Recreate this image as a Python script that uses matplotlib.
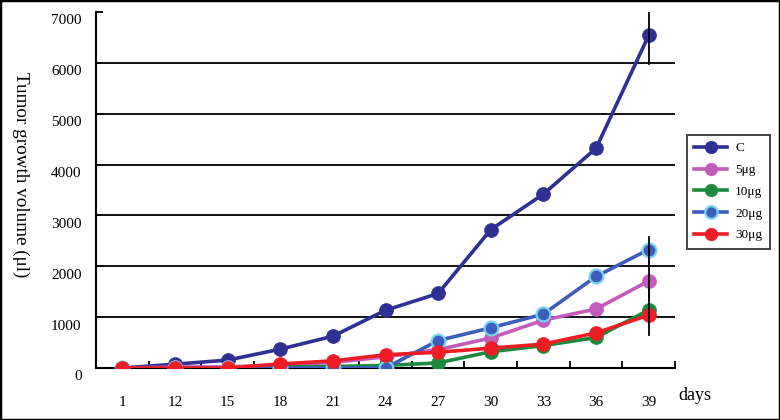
import numpy as np
import matplotlib
matplotlib.use('Agg')
import matplotlib.pyplot as plt
from matplotlib.transforms import ScaledTranslation
from matplotlib.patches import Rectangle

plt.rcParams['font.family'] = ['Liberation Serif', 'DejaVu Serif']

# Данные
days = ['1', '12', '15', '18', '21', '24', '27', '30', '33', '36', '39']
vol_c = [0, 75, 155, 370, 625, 1135, 1465, 2720, 3420, 4320, 6540]
vol_5 = [0, 20, 20, 60, 110, 220, 360, 590, 940, 1160, 1710]
vol_10 = [0, 0, 0, 20, 30, 50, 100, 320, 440, 600, 1140]
vol_20 = [0, 0, 0, 0, 0, 0, 540, 790, 1060, 1800, 2330]
vol_30 = [0, 0, 0, 80, 140, 260, 310, 390, 470, 690, 1040]
err_39 = {'C': 560, '5μg': 380, '10μg': 490, '20μg': 250, '30μg': 0}
yticks = [0, 1000, 2000, 3000, 4000, 5000, 6000, 7000]

series = [
    ('C', vol_c, '#2E3092', '#2E3092'),
    ('5μg', vol_5, '#C25BBA', '#C25BBA'),
    ('10μg', vol_10, '#1C8A3C', '#1C8A3C'),
    ('20μg', vol_20, '#3D5DBB', '#79D2F2'),
    ('30μg', vol_30, '#EE1D25', '#EE1D25'),
]

fig = plt.figure(figsize=(7.8, 4.2), dpi=100)
ax = fig.add_axes([96 / 780, 1 - 368 / 420, (675 - 96) / 780, (368 - 12) / 420])

x = np.arange(len(days))

# линии сетки
for yv in yticks[1:-1]:
    ax.axhline(yv, color='black', lw=1.3, zorder=1)

for name, vals, col, edge in series:
    ax.plot(x, vals, color=col, lw=2.6, marker='o', ms=10,
            mfc=col, mec=edge, mew=1.6 if edge != col else 0.5,
            label=name, zorder=3)

# планки погрешностей для последнего дня
for name, vals, col, edge in series:
    e = err_39[name]
    if e:
        ax.plot([x[-1], x[-1]], [vals[-1] - e, vals[-1] + e],
                color='black', lw=1.3, zorder=4)

ax.set_xlim(-0.5, len(days) - 0.5)
ax.set_ylim(0, 7000)
ax.spines['top'].set_visible(False)
ax.spines['right'].set_visible(False)
ax.spines['left'].set_linewidth(1.5)
ax.spines['bottom'].set_linewidth(1.5)

ax.set_xticks(x)
ax.set_xticklabels(days, fontsize=11)
ax.set_xticks(np.arange(len(days)) + 0.5, minor=True)
ax.tick_params(axis='x', which='major', length=0, pad=20)
ax.tick_params(axis='x', which='minor', direction='in', length=5, width=1.3)

ax.set_yticks(yticks)
ax.set_yticklabels([])
ax.tick_params(axis='y', direction='in', length=5, width=1.3)
off = ScaledTranslation(0, -0.09, fig.dpi_scale_trans)
for yv in yticks:
    ax.text(-0.025, yv, str(yv), transform=ax.get_yaxis_transform() + off,
            ha='right', va='center', fontsize=11)

fig.text(21 / 780, 1 - 175 / 420, 'Tumor growth volume (μl)', rotation=-90,
         ha='center', va='center', fontsize=13.8)
fig.text(678 / 780, 1 - 395 / 420, 'days', ha='left', va='center', fontsize=13)

leg = ax.legend(loc='upper left', bbox_to_anchor=(687 / 780, 1 - 135 / 420),
                bbox_transform=fig.transFigure, frameon=True, fancybox=False,
                fontsize=9.5, handlelength=2.5, labelspacing=0.72,
                borderpad=0.55, handletextpad=0.6, markerscale=0.9,
                borderaxespad=0)
leg.get_frame().set_edgecolor('black')
leg.get_frame().set_linewidth(1.3)

fig.patches.append(Rectangle((0, 0), 1, 1, transform=fig.transFigure,
                             fill=False, edgecolor='black', lw=2.5))

fig.savefig('out.png', dpi=100)
